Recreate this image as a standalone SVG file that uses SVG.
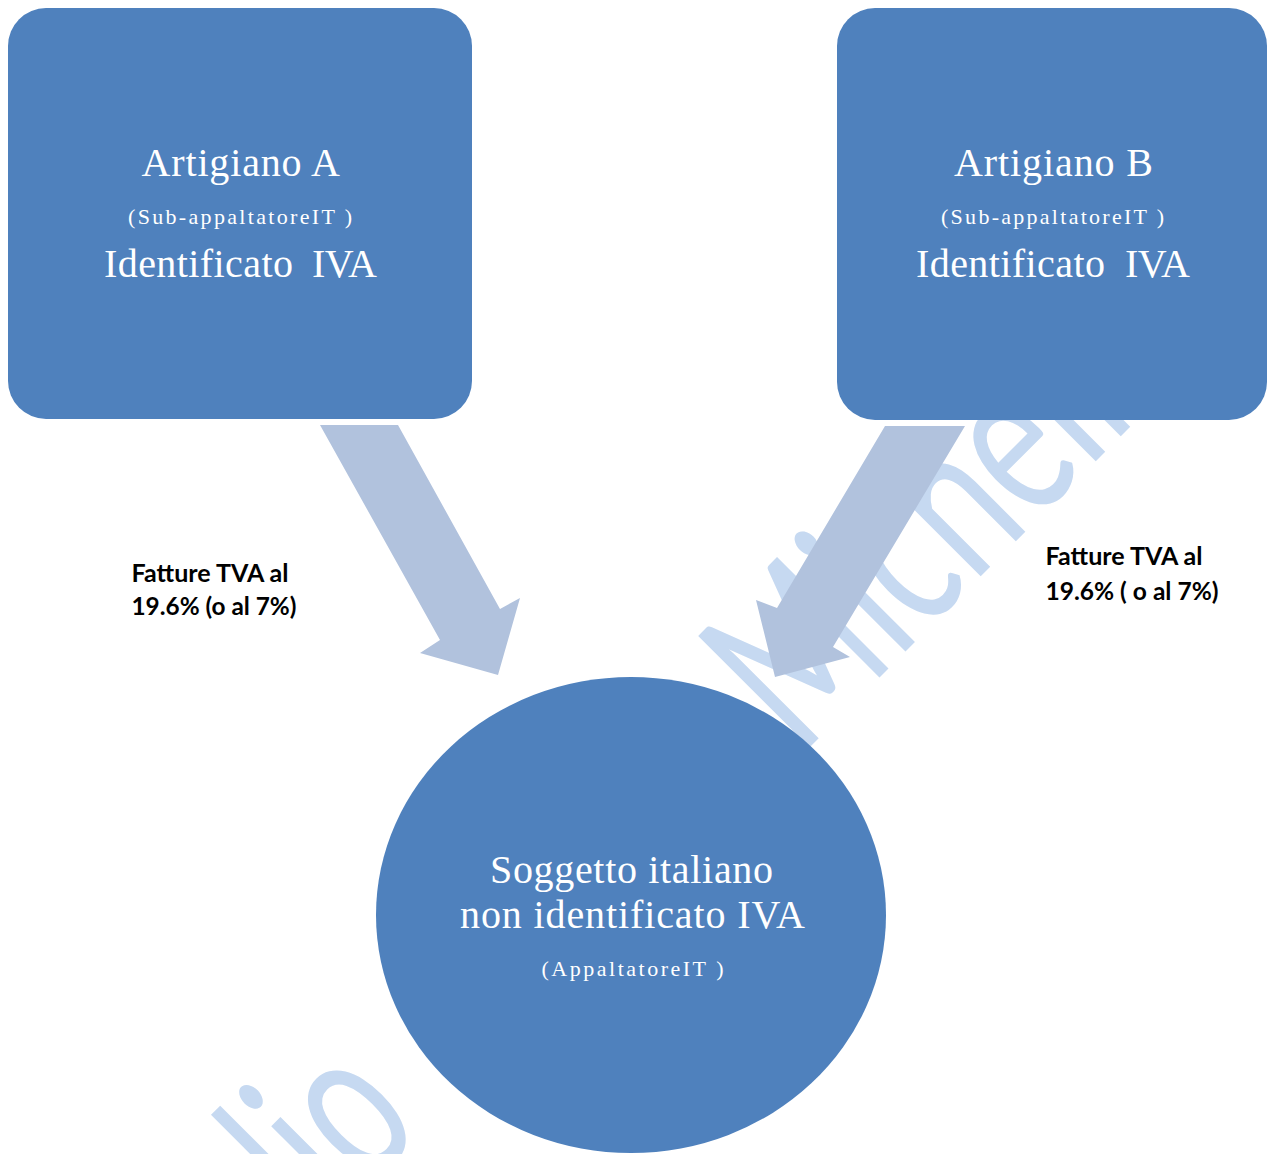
<svg xmlns="http://www.w3.org/2000/svg" width="1271" height="1154" viewBox="0 0 1271 1154">
  <style>
    .node { fill: #4F81BD; }
    .arrow { fill: #B1C2DD; }
    .wm { fill: #C6D9F1; font-family: Lato, "Open Sans", sans-serif; font-size: 220px; }
    .t-big { fill: #FFFFFF; font-family: "Liberation Serif", "Times New Roman", serif; font-size: 40px; }
    .t-small { fill: #FFFFFF; font-family: "Liberation Serif", "Times New Roman", serif; font-size: 22px; }
    .lbl { fill: #000000; font-family: Lato, "Open Sans", sans-serif; font-weight: bold; font-size: 24px; }
  </style>
  <rect width="1271" height="1154" fill="#FFFFFF"/>

  <g id="watermark">
    <text class="wm" transform="translate(318,1237) rotate(-45)" textLength="152" lengthAdjust="spacingAndGlyphs">lio</text>
    <text class="wm" transform="translate(800,757) rotate(-45)" textLength="478" lengthAdjust="spacingAndGlyphs">Michell</text>
  </g>

  <g id="connectors">
    <polygon id="arrow-a" class="arrow" points="320,425 398,425 500,609 520,598 498,675 420,653 440,640"/>
    <polygon id="arrow-b" class="arrow" points="885,426 965,426 833,647 850,657 775,677 756,600 777,608"/>
    <g id="label-a">
      <text class="lbl" x="131.5" y="582" textLength="157" lengthAdjust="spacingAndGlyphs">Fatture TVA al</text>
      <text class="lbl" x="131.5" y="615" textLength="165" lengthAdjust="spacingAndGlyphs">19.6% (o al 7%)</text>
    </g>
    <g id="label-b">
      <text class="lbl" x="1045.5" y="565" textLength="157" lengthAdjust="spacingAndGlyphs">Fatture TVA al</text>
      <text class="lbl" x="1045.5" y="600" textLength="173" lengthAdjust="spacingAndGlyphs">19.6% ( o al 7%)</text>
    </g>
  </g>

  <g id="node-a">
    <rect class="node" x="8" y="8" width="464" height="411" rx="38" ry="38"/>
    <text class="t-big" x="141.5" y="176" textLength="198.5">Artigiano A</text>
    <text class="t-small" x="128" y="224" textLength="224">(Sub-appaltatoreIT )</text>
    <text class="t-big" y="277"><tspan x="104" textLength="189">Identificato</tspan> <tspan x="312" textLength="65">IVA</tspan></text>
  </g>

  <g id="node-b">
    <rect class="node" x="837" y="8" width="430" height="412" rx="38" ry="38"/>
    <text class="t-big" x="954" y="176" textLength="199">Artigiano B</text>
    <text class="t-small" x="941" y="224" textLength="223">(Sub-appaltatoreIT )</text>
    <text class="t-big" y="277"><tspan x="916" textLength="189">Identificato</tspan> <tspan x="1125" textLength="65">IVA</tspan></text>
  </g>

  <g id="node-c">
    <ellipse class="node" cx="631" cy="915" rx="255" ry="238"/>
    <text class="t-big" x="490" y="883" textLength="283">Soggetto italiano</text>
    <text class="t-big" x="460" y="928" textLength="345">non identificato IVA</text>
    <text class="t-small" x="541.5" y="976" textLength="182">(AppaltatoreIT )</text>
  </g>
</svg>
